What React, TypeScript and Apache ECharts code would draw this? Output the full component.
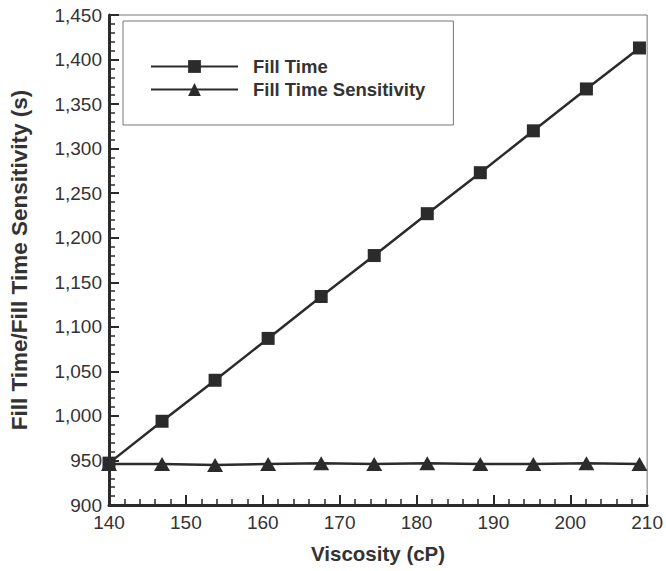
import React, { useEffect, useRef } from "react";
import * as echarts from "echarts";

// Viscosity sweep (cP)
const viscosity = [140, 146.9, 153.8, 160.7, 167.6, 174.5, 181.4, 188.3, 195.2, 202.1, 209];
// Fill time (s)
const fillTime = [947, 994, 1040, 1087, 1134, 1180, 1227, 1273, 1320, 1367, 1413];
// Fill time sensitivity (s)
const fillTimeSensitivity = [946, 946, 945, 946, 947, 946, 947, 946, 946, 947, 946];

const seriesNames = ["Fill Time", "Fill Time Sensitivity"];
const xTitle = "Viscosity (cP)";
const yTitle = "Fill Time/Fill Time Sensitivity (s)";

const INK = "#2b2b2b";
const FONT = "'Liberation Sans', Arial, Helvetica, sans-serif";

export default function App() {
  const ref = useRef<HTMLDivElement>(null);

  useEffect(() => {
    if (!ref.current) return;
    const chart = echarts.init(ref.current, undefined, { renderer: "svg" });

    const axisCommon = {
      axisLine: { show: true, onZero: false, lineStyle: { color: INK, width: 3 } },
      axisTick: { show: true, inside: true, length: 10, lineStyle: { color: INK, width: 2 } },
      minorTick: { show: true, splitNumber: 5, length: 6, lineStyle: { color: INK, width: 1.5 } },
      splitLine: { show: false },
      axisLabel: { color: "#333", fontSize: 19, fontFamily: FONT },
    };

    chart.setOption({
      animation: false,
      backgroundColor: "#fff",
      grid: {
        left: 104,
        right: 18,
        top: 15,
        bottom: 66,
        show: true,
        borderColor: "#777",
        borderWidth: 1,
        backgroundColor: "transparent",
      },
      legend: {
        left: 123,
        top: 21,
        orient: "vertical",
        data: seriesNames,
        itemWidth: 87,
        itemHeight: 16,
        itemGap: 4,
        padding: [36, 28, 26, 27],
        borderColor: "#777",
        borderWidth: 1,
        textStyle: { color: "#333", fontSize: 18.5, fontWeight: "bold", fontFamily: FONT, padding: [0, 0, 0, 10] },
      },
      xAxis: {
        type: "value",
        min: 140,
        max: 210,
        interval: 10,
        name: xTitle,
        nameLocation: "middle",
        nameGap: 38,
        nameTextStyle: { color: "#333", fontSize: 20.5, fontWeight: "bold", fontFamily: FONT },
        ...axisCommon,
        axisLabel: { ...axisCommon.axisLabel, margin: 8 },
      },
      yAxis: {
        type: "value",
        min: 900,
        max: 1450,
        interval: 50,
        name: yTitle,
        nameLocation: "middle",
        nameGap: 78,
        nameTextStyle: { color: "#333", fontSize: 22.5, fontWeight: "bold", fontFamily: FONT },
        ...axisCommon,
        axisLabel: {
          ...axisCommon.axisLabel,
          margin: 7,
          formatter: (v: number) => v.toLocaleString("en-US"),
        },
      },
      series: [
        {
          name: seriesNames[0],
          type: "line",
          data: viscosity.map((x, i) => [x, fillTime[i]]),
          symbol: "rect",
          symbolSize: 13,
          lineStyle: { color: INK, width: 2.5 },
          itemStyle: { color: INK },
          clip: false,
          z: 3,
        },
        {
          name: seriesNames[1],
          type: "line",
          data: viscosity.map((x, i) => [x, fillTimeSensitivity[i]]),
          symbol: "triangle",
          symbolSize: [16, 14],
          lineStyle: { color: INK, width: 2.5 },
          itemStyle: { color: INK },
          clip: false,
          z: 3,
        },
      ],
    });

    return () => chart.dispose();
  }, []);

  return (
    <div
      ref={ref}
      style={{ position: "fixed", left: 0, top: 0, width: 666, height: 571 }}
    />
  );
}
